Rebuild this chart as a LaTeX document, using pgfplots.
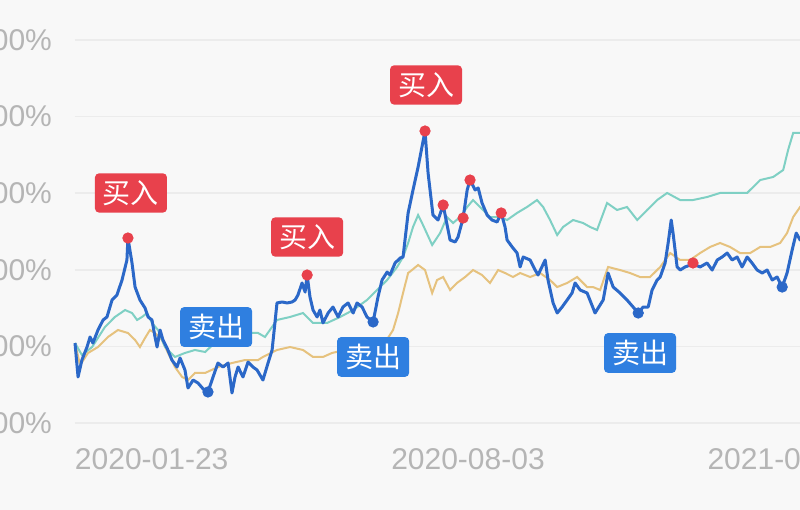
\documentclass[border=0pt]{standalone}
\usepackage{pgfplots}
\pgfplotsset{compat=1.18}
\usepackage{fontspec}
\setmainfont{Liberation Sans}
\newfontfamily\cjk{Noto Sans CJK SC}
\definecolor{bgc}{HTML}{F8F8F8}
\definecolor{gridc}{HTML}{ECECEC}
\definecolor{labc}{HTML}{B5B5B5}
\definecolor{bluel}{HTML}{2B68C8}
\definecolor{tealc}{HTML}{7FD0C4}
\definecolor{goldc}{HTML}{E6C27E}
\definecolor{redc}{HTML}{E8414C}
\definecolor{boxb}{HTML}{2F7FE0}
\begin{document}
\begin{tikzpicture}
\clip (0,0) rectangle (400pt,255pt);
\fill[bgc] (0,0) rectangle (400pt,255pt);
\begin{axis}[
  at={(37.5pt,43.5pt)}, anchor=south west,
  scale only axis, width=393pt, height=191.5pt,
  xmin=0, xmax=386, ymin=100, ymax=600,
  clip=false,
  axis line style={draw=none},
  major tick length=0pt,
  ymajorgrids, grid style={color=gridc, line width=0.8pt},
  ytick={100,200,300,400,500,600},
  yticklabels={100\%,200\%,300\%,400\%,500\%,600\%},
  xtick={0,193,386},
  xticklabels={\rlap{2020-01-23},2020-08-03,\llap{2021-02-12}},
  ticklabel style={font=\fontsize{15}{18}\selectfont, text=labc},
  yticklabel style={anchor=east, xshift=-8pt},
  xticklabel style={anchor=north, yshift=-9pt},
]
% gold
\addplot[color=goldc, line width=1pt] coordinates {
(0,204.4)(2.5,175.7)(6.4,191.4)(11.3,199.2)(16.2,212.3)(21.1,221.4)(26.0,217.5)(29.5,208.4)(31.9,199.2)(34.4,211.0)(36.8,221.4)(39.3,217.5)(42.7,208.4)(45.7,191.4)(49.1,173.1)(52.6,160.1)(55.5,156.1)(58.9,165.3)(63.9,165.3)(70.2,173.1)(77.1,178.3)(83.5,182.2)(89.9,182.2)(92.3,186.2)(99.2,195.3)(105.6,199.2)(112.0,195.3)(116.9,186.2)(121.8,186.2)(126.2,191.4)(132.6,195.3)(140.0,197.9)(147.4,201.8)(153.7,211.0)(156.2,221.4)(158.7,243.6)(161.1,269.7)(163.6,295.8)(165.5,299.7)(168.5,306.3)(171.9,299.7)(175.4,269.7)(177.8,286.7)(180.8,290.6)(184.2,273.6)(187.6,282.8)(191.6,290.6)(195.5,299.7)(199.9,293.2)(203.8,282.8)(207.8,299.7)(211.2,295.8)(215.1,290.6)(218.6,295.8)(223.5,290.6)(228.4,295.8)(233.3,286.7)(236.8,277.5)(241.7,282.8)(246.6,290.6)(251.5,277.5)(254.4,277.5)(257.9,273.6)(261.8,303.7)(267.7,299.7)(272.6,295.8)(277.5,290.6)(282.4,290.6)(287.4,303.7)(292.3,321.9)(297.2,312.8)(302.1,312.8)(307.0,321.9)(311.9,329.8)(316.8,335.0)(321.7,329.8)(326.6,321.9)(331.6,321.9)(336.5,329.8)(341.4,329.8)(346.3,335.0)(349.7,348.0)(352.7,368.9)(356.1,382.0)(359.1,391.1)(362.0,397.6)
};
% teal
\addplot[color=tealc, line width=1pt] coordinates {
(0,204.4)(3.4,188.8)(8.4,199.2)(14.7,225.3)(19.6,238.4)(24.6,247.5)(28.0,243.6)(30.5,234.5)(32.9,238.4)(35.4,243.6)(37.8,230.6)(40.8,221.4)(44.2,199.2)(49.1,186.2)(54.0,191.4)(58.9,195.3)(63.9,192.7)(70.2,208.4)(77.1,212.3)(83.5,217.5)(89.9,217.5)(93.3,212.3)(99.2,234.5)(105.6,238.4)(112.0,243.6)(116.9,230.6)(123.8,230.6)(130.2,238.4)(136.6,247.5)(143.4,260.6)(148.3,273.6)(153.3,286.7)(158.2,303.7)(161.1,316.7)(163.6,335.0)(166.0,355.9)(168.5,371.5)(170.9,358.5)(175.4,332.4)(179.3,348.0)(182.7,368.9)(185.7,361.1)(189.1,368.9)(192.6,382.0)(195.5,391.1)(198.9,382.0)(203.8,368.9)(208.8,368.9)(212.2,365.0)(217.1,374.2)(222.0,382.0)(226.9,391.1)(229.9,382.0)(233.3,365.0)(236.8,345.4)(239.7,355.9)(244.6,365.0)(249.5,361.1)(253.0,355.9)(256.4,352.0)(261.3,387.2)(266.2,378.1)(271.1,382.0)(276.1,365.0)(281.0,378.1)(285.9,391.1)(290.8,400.3)(297.2,391.1)(303.5,391.1)(310.4,395.0)(316.8,400.3)(323.2,400.3)(330.1,400.3)(336.5,417.2)(342.9,421.2)(347.8,430.3)(350.2,456.4)(352.7,478.6)(356.1,478.6)(359.1,482.5)(362.0,485.1)
};
% blue (main)
\addplot[color=bluel, line width=1.5pt, line join=round] coordinates {
(0,204.4)(1.5,160.1)(3.4,182.2)(5.9,199.2)(7.4,212.3)(8.8,204.4)(11.3,221.4)(13.8,234.5)(15.7,238.4)(18.2,260.6)(20.6,267.1)(23.1,286.7)(25.5,312.8)(26.0,341.5)(28.0,308.9)(29.5,277.5)(31.9,260.6)(34.4,250.1)(35.9,238.4)(37.8,234.5)(39.3,212.3)(40.3,199.2)(41.8,221.4)(43.2,208.4)(45.2,197.9)(47.6,182.2)(50.1,173.1)(51.6,184.9)(54.0,169.2)(55.5,145.7)(58.0,156.1)(60.4,152.2)(63.4,143.1)(65.3,140.5)(67.8,160.1)(70.2,178.3)(72.7,173.1)(75.2,178.3)(77.1,139.2)(78.6,160.1)(80.1,173.1)(82.5,160.1)(85.0,179.6)(87.4,173.1)(89.4,169.2)(92.3,156.1)(94.8,178.3)(96.8,195.3)(99.2,256.7)(101.7,258.0)(104.2,256.7)(106.6,258.0)(108.1,260.6)(109.5,267.1)(111.5,282.8)(113.0,271.0)(114.0,293.2)(115.4,264.5)(116.9,247.5)(118.9,238.4)(120.3,247.5)(121.8,230.6)(124.3,243.6)(126.7,251.4)(129.2,238.4)(131.6,251.4)(134.1,256.7)(136.6,243.6)(138.5,256.7)(141.0,251.4)(143.4,238.4)(146.4,231.9)(148.8,264.5)(150.8,286.7)(153.3,297.1)(154.7,293.2)(157.2,308.9)(159.7,315.4)(161.1,316.7)(163.6,374.2)(166.0,404.2)(168.5,434.2)(171.9,481.2)(173.4,426.4)(175.8,371.5)(178.3,365.0)(180.8,384.6)(184.2,338.9)(186.7,336.3)(188.1,342.8)(190.6,367.6)(192.6,404.2)(194.0,417.2)(196.5,404.2)(198.0,406.8)(199.9,387.2)(202.4,371.5)(204.8,365.0)(207.3,362.4)(209.3,374.2)(211.2,355.9)(212.2,338.9)(214.7,329.8)(217.1,321.9)(218.6,303.7)(220.1,316.7)(223.5,312.8)(226.0,299.7)(227.4,293.2)(230.9,312.8)(232.3,286.7)(234.8,256.7)(236.8,243.6)(239.2,251.4)(241.7,260.6)(244.1,269.7)(245.6,282.8)(248.1,273.6)(251.5,269.7)(255.4,243.6)(259.4,260.6)(261.8,295.8)(264.3,277.5)(267.7,269.7)(271.1,260.6)(274.1,251.4)(276.6,243.6)(279.0,251.4)(281.5,251.4)(283.4,273.6)(285.9,286.7)(287.4,290.6)(289.8,308.9)(291.3,335.0)(292.8,365.0)(293.7,348.0)(295.7,303.7)(297.2,299.7)(299.6,303.7)(303.5,307.5)(307.0,303.7)(310.4,308.9)(312.9,299.7)(315.4,312.8)(317.8,316.7)(320.3,321.9)(322.7,312.8)(325.2,316.7)(327.6,303.7)(330.1,316.7)(332.5,308.9)(335.0,299.7)(337.5,295.8)(339.9,299.7)(342.4,286.7)(344.8,290.6)(347.3,277.5)(349.7,295.8)(352.2,325.9)(354.2,348.0)(356.1,338.9)(359.1,345.4)(362.0,340.0)
};
% buy points
\addplot[only marks, mark=*, mark size=2.6pt, color=redc] coordinates {
(26.0,341.5)(114.0,293.2)(171.9,481.2)(180.8,384.6)(190.6,367.6)(194.0,417.2)(209.3,374.2)(303.5,308.9)
};
% sell points
\addplot[only marks, mark=*, mark size=2.6pt, color=bluel] coordinates {
(65.3,140.5)(146.4,231.9)(276.6,243.6)(347.3,277.5)
};
\tikzset{lab/.style={rounded corners=2pt, text=white, inner xsep=4pt, inner ysep=3.5pt, font=\cjk\fontsize{14}{14}\selectfont}}
\node[lab, fill=redc] at (axis cs:27.5,400.3) {买入};
\node[lab, fill=boxb] at (axis cs:69.3,225.3) {卖出};
\node[lab, fill=redc] at (axis cs:114.0,342.8) {买入};
\node[lab, fill=boxb] at (axis cs:146.4,186.2) {卖出};
\node[lab, fill=redc] at (axis cs:172.4,541.3) {买入};
\node[lab, fill=boxb] at (axis cs:277.5,191.4) {卖出};
\end{axis}
\end{tikzpicture}
\end{document}
